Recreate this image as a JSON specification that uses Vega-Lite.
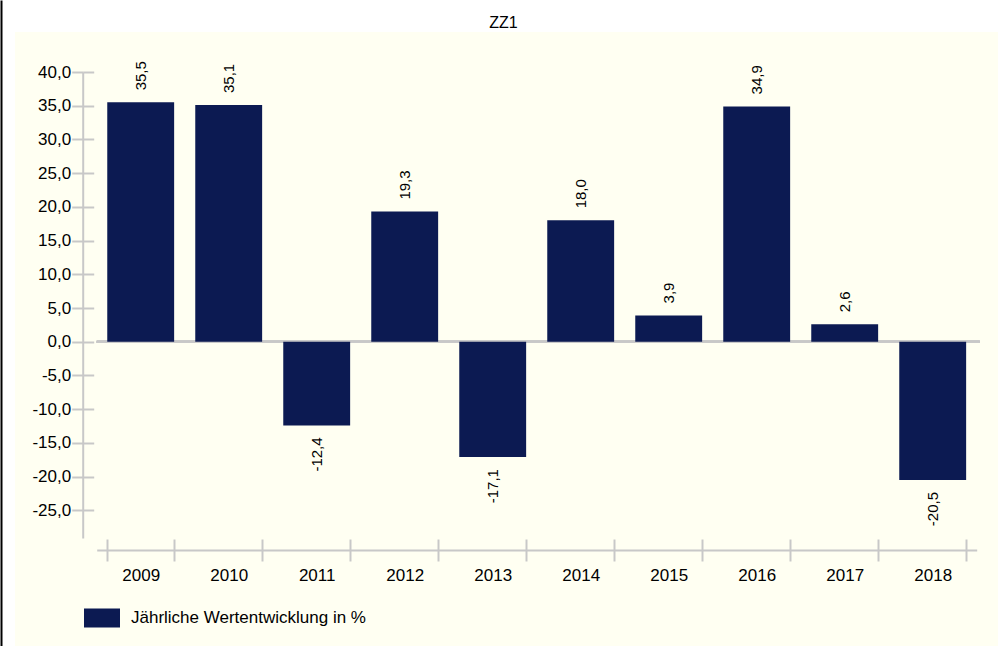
{
  "$schema": "https://vega.github.io/schema/vega-lite/v6.json",
  "width": 983,
  "height": 614,
  "autosize": {"type": "none"},
  "padding": {"left": 15, "top": 32, "right": 0, "bottom": 0},
  "background": "#FFFFFF",
  "config": {
    "locale": {"number": {"decimal": ",", "thousands": ".", "grouping": [3], "currency": ["", " €"], "minus": "-"}},
    "view": {"fill": "#FFFFF2", "stroke": null},
    "font": "Liberation Sans"
  },
  "title": {"text": "ZZ1", "fontSize": 16, "fontWeight": "normal", "color": "#000000", "anchor": "middle", "frame": "group", "baseline": "alphabetic", "offset": 6, "dx": -3, "dy": 18},
  "data": {"values": [
    {"year": "2009", "v": 35.5},
    {"year": "2010", "v": 35.1},
    {"year": "2011", "v": -12.4},
    {"year": "2012", "v": 19.3},
    {"year": "2013", "v": -17.1},
    {"year": "2014", "v": 18.0},
    {"year": "2015", "v": 3.9},
    {"year": "2016", "v": 34.9},
    {"year": "2017", "v": 2.6},
    {"year": "2018", "v": -20.5}
  ]},
  "layer": [
    {
      "layer": [
        {
          "mark": {"type": "rule", "color": "#C8C8C8", "strokeWidth": 2},
          "encoding": {
            "x": {"datum": "2009", "type": "nominal", "bandPosition": -0.157, "axis": null},
            "x2": {"datum": "2018", "bandPosition": 1.206},
            "y": {"datum": 0, "type": "quantitative", "axis": null}
          }
        },
        {
          "mark": {"type": "bar"},
          "encoding": {
            "x": {"field": "year", "type": "nominal", "sort": null,
              "scale": {"type": "band", "domain": ["2009", "2010", "2011", "2012", "2013", "2014", "2015", "2016", "2017", "2018"], "range": [81.7, 961.7], "paddingInner": 0.24, "paddingOuter": 0.12},
              "axis": {"orient": "bottom", "offset": -96, "title": null, "domainColor": "#C8C8C8", "domainWidth": 2, "tickColor": "#C8C8C8", "tickWidth": 2, "tickSize": 11, "tickBand": "extent", "labelFontSize": 17, "labelColor": "#000000", "labelPadding": 6, "labelAngle": 0, "grid": false}},
            "y": {"field": "v", "type": "quantitative",
              "scale": {"domain": [-29.1, 40], "range": [506, 40], "nice": false, "zero": false},
              "axis": {"orient": "left", "offset": -67.7, "title": null, "values": [-25, -20, -15, -10, -5, 0, 5, 10, 15, 20, 25, 30, 35, 40], "format": ".1f", "grid": false, "domainColor": "#C8C8C8", "domainWidth": 2, "tickColor": "#C8C8C8", "tickWidth": 2, "tickSize": 11, "labelFontSize": 17, "labelColor": "#000000", "labelPadding": 1}},
            "color": {"datum": "Jährliche Wertentwicklung in %", "type": "nominal",
              "scale": {"range": ["#0C1A52"]},
              "legend": {"title": null, "orient": "none", "legendX": 69, "legendY": 568, "symbolType": "M-1,-0.53H1V0.53H-1Z", "symbolSize": 1296, "symbolStrokeWidth": 0, "symbolOpacity": 1, "labelFontSize": 17, "labelColor": "#000000", "labelOffset": 11, "labelLimit": 500}}
          }
        },
        {
          "transform": [{"filter": "datum.v >= 0"}],
          "mark": {"type": "text", "angle": 270, "align": "left", "baseline": "middle", "dx": 12, "fontSize": 15, "color": "#000000"},
          "encoding": {
            "x": {"field": "year", "type": "nominal", "sort": null,
              "axis": {"orient": "bottom", "offset": -96, "title": null, "labels": false, "domain": false, "tickColor": "#C8C8C8", "tickWidth": 2, "tickSize": -11, "tickBand": "extent", "grid": false}},
            "y": {"field": "v", "type": "quantitative",
              "axis": {"orient": "left", "offset": -67.7, "title": null, "labels": false, "domain": false, "values": [-25, -20, -15, -10, -5, 0, 5, 10, 15, 20, 25, 30, 35, 40], "tickColor": "#C8C8C8", "tickWidth": 2, "tickSize": -11, "grid": false}},
            "text": {"field": "v", "type": "quantitative", "format": ".1f"}
          }
        },
        {
          "transform": [{"filter": "datum.v < 0"}],
          "mark": {"type": "text", "angle": 270, "align": "right", "baseline": "middle", "dx": -12, "fontSize": 15, "color": "#000000"},
          "encoding": {
            "x": {"field": "year", "type": "nominal", "sort": null, "axis": null},
            "y": {"field": "v", "type": "quantitative", "axis": null},
            "text": {"field": "v", "type": "quantitative", "format": ".1f"}
          }
        }
      ],
      "resolve": {"axis": {"x": "independent", "y": "independent"}}
    },
    {
      "mark": {"type": "rule", "opacity": 0},
      "encoding": {
        "y": {"datum": 0, "type": "quantitative",
          "scale": {"domain": [0, 1], "range": [614, -32], "nice": false, "zero": false},
          "axis": {"orient": "left", "offset": 14, "title": null, "labels": false, "ticks": false, "grid": false, "domainColor": "#000000", "domainWidth": 2}}
      }
    }
  ],
  "resolve": {"scale": {"y": "independent"}, "axis": {"y": "independent"}}
}
